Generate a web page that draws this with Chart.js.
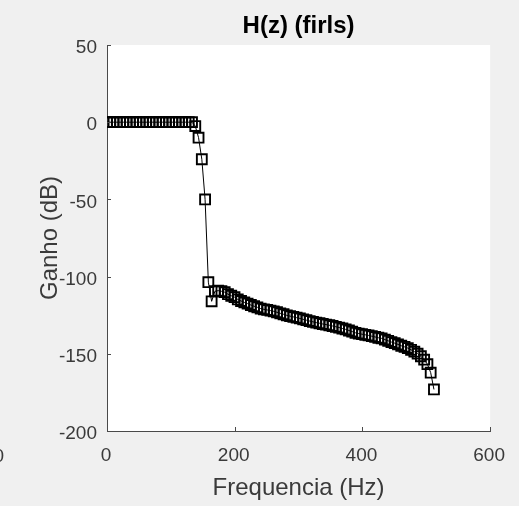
<!DOCTYPE html>
<html>
<head>
<meta charset="utf-8">
<script src="https://cdn.jsdelivr.net/npm/chart.js@4/dist/chart.umd.min.js"></script>
<style>
  html, body { margin: 0; padding: 0; background: #f0f0f0; }
  canvas { display: block; }
</style>
</head>
<body>
<canvas id="c" width="519" height="506"></canvas>
<script>
// ---- data ----
const chartTitle = 'H(z) (firls)';
const xAxisTitle = 'Frequencia (Hz)';
const yAxisTitle = 'Ganho (dB)';

const xTickValues = [0, 200, 400, 600];
const yTickValues = [-200, -150, -100, -50, 0, 50];

const frequencies = [
  0, 5.12, 10.24, 15.36, 20.48, 25.6, 30.72, 35.84, 40.96, 46.08,
  51.2, 56.32, 61.44, 66.56, 71.68, 76.8, 81.92, 87.04, 92.16, 97.28,
  102.4, 107.52, 112.64, 117.76, 122.88, 128, 133.12, 138.24, 143.36, 148.48,
  153.6, 158.72, 163.84, 168.96, 174.08, 179.2, 184.32, 189.44, 194.56, 199.68,
  204.8, 209.92, 215.04, 220.16, 225.28, 230.4, 235.52, 240.64, 245.76, 250.88,
  256, 261.12, 266.24, 271.36, 276.48, 281.6, 286.72, 291.84, 296.96, 302.08,
  307.2, 312.32, 317.44, 322.56, 327.68, 332.8, 337.92, 343.04, 348.16, 353.28,
  358.4, 363.52, 368.64, 373.76, 378.88, 384, 389.12, 394.24, 399.36, 404.48,
  409.6, 414.72, 419.84, 424.96, 430.08, 435.2, 440.32, 445.44, 450.56, 455.68,
  460.8, 465.92, 471.04, 476.16, 481.28, 486.4, 491.52, 496.64, 501.76, 506.88,
  512
];

const gainDb = [
  0, 0, 0, 0, 0, 0, 0, 0, 0, 0,
  0, 0, 0, 0, 0, 0, 0, 0, 0, 0,
  0, 0, 0, 0, 0, 0, 0, -2.5, -10, -24,
  -50, -103.6, -116, -109.5, -109.1, -109.5, -110.1, -111.4, -112.4, -113.3,
  -114.8, -115.8, -116.7, -117.5, -118.4, -119.2, -119.9, -120.7, -121.2, -121.6,
  -122.0, -122.5, -123.1, -123.8, -124.4, -125.1, -125.6, -126.1, -126.6, -127.1,
  -127.7, -128.2, -128.8, -129.3, -129.8, -130.2, -130.7, -131.1, -131.5, -132.0,
  -132.5, -133.0, -133.6, -134.2, -134.9, -135.6, -136.4, -136.9, -137.3, -137.7,
  -138.1, -138.6, -139.1, -139.6, -140.0, -140.8, -141.6, -142.4, -143.1, -143.9,
  -144.8, -145.5, -146.3, -147.4, -148.6, -149.9, -151.6, -153.8, -156.7, -162.2,
  -173.1
];

// ---- styling ----
const FONT = "'Liberation Sans', Arial, Helvetica, sans-serif";
const AXIS_COLOR = '#4a4a4a';
const TEXT_COLOR = '#3a3a3a';

const points = frequencies.map((f, i) => ({ x: f, y: gainDb[i] }));

const framePlugin = {
  id: 'frame',
  beforeDraw(chart) {
    const { ctx, chartArea: a } = chart;
    ctx.save();
    ctx.fillStyle = '#f0f0f0';
    ctx.fillRect(0, 0, chart.width, chart.height);
    ctx.fillStyle = '#ffffff';
    ctx.fillRect(a.left, a.top, a.right - a.left, a.bottom - a.top);
    ctx.restore();
  },
  afterDraw(chart) {
    const { ctx, chartArea: a, scales } = chart;
    ctx.save();
    ctx.strokeStyle = AXIS_COLOR;
    ctx.lineWidth = 1;
    // inward tick marks
    xTickValues.forEach(v => {
      const px = Math.round(scales.x.getPixelForValue(v)) + 0.5;
      ctx.beginPath();
      ctx.moveTo(px, a.bottom);
      ctx.lineTo(px, a.bottom - 4);
      ctx.stroke();
    });
    yTickValues.forEach(v => {
      const py = Math.round(scales.y.getPixelForValue(v)) + 0.5;
      ctx.beginPath();
      ctx.moveTo(a.left, py);
      ctx.lineTo(a.left + 4, py);
      ctx.stroke();
    });
    // title
    ctx.fillStyle = '#000000';
    ctx.font = 'bold 24px ' + FONT;
    ctx.textAlign = 'center';
    ctx.textBaseline = 'alphabetic';
    ctx.fillText(chartTitle, (a.left + a.right) / 2, 33);
    // clipped tick label of a neighbouring axes at the left edge
    ctx.fillStyle = TEXT_COLOR;
    ctx.font = '19px ' + FONT;
    ctx.textAlign = 'right';
    ctx.fillText('0', 4, 462);
    ctx.restore();
  }
};

new Chart(document.getElementById('c'), {
  type: 'line',
  data: {
    datasets: [{
      data: points,
      borderColor: '#000000',
      borderWidth: 1,
      pointStyle: 'rect',
      pointRadius: 7,
      pointBorderWidth: 1.9,
      pointBorderColor: '#000000',
      pointBackgroundColor: 'rgba(0,0,0,0)',
      tension: 0,
      fill: false
    }]
  },
  options: {
    responsive: false,
    animation: false,
    devicePixelRatio: 1,
    layout: { padding: { top: 45, right: 26, bottom: 0, left: 0 } },
    plugins: {
      legend: { display: false },
      tooltip: { enabled: false },
      title: { display: false }
    },
    scales: {
      x: {
        type: 'linear',
        min: 0, max: 600,
        afterFit(s) { s.height = 75; },
        afterBuildTicks(s) { s.ticks = xTickValues.map(v => ({ value: v })); },
        grid: { display: true, drawOnChartArea: false, drawTicks: false },
        border: { display: true, color: AXIS_COLOR, width: 1 },
        ticks: {
          padding: 13,
          labelOffset: -1,
          maxRotation: 0,
          color: TEXT_COLOR,
          font: { family: FONT, size: 19 }
        },
        title: {
          display: true,
          text: xAxisTitle,
          color: TEXT_COLOR,
          font: { family: FONT, size: 24 },
          padding: { top: 0, bottom: 3 }
        }
      },
      y: {
        type: 'linear',
        min: -200, max: 50,
        afterFit(s) { s.width = 107; },
        afterBuildTicks(s) { s.ticks = yTickValues.map(v => ({ value: v })); },
        grid: { display: true, drawOnChartArea: false, drawTicks: false },
        border: { display: true, color: AXIS_COLOR, width: 1 },
        ticks: {
          padding: 10,
          labelOffset: 3,
          color: TEXT_COLOR,
          font: { family: FONT, size: 19 }
        },
        title: {
          display: true,
          text: yAxisTitle,
          color: TEXT_COLOR,
          font: { family: FONT, size: 24 },
          padding: { top: 36, bottom: 0 }
        }
      }
    }
  },
  plugins: [framePlugin]
});
</script>
</body>
</html>
